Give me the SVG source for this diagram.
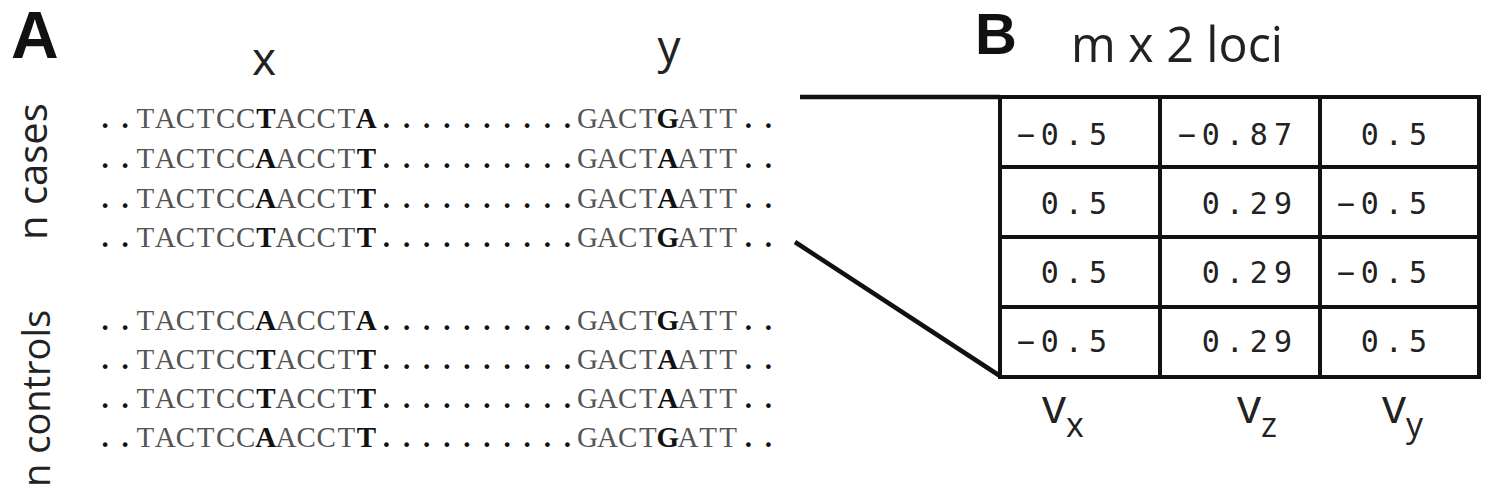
<svg xmlns="http://www.w3.org/2000/svg" width="1485" height="497" viewBox="0 0 1485 497">
<style>
.panel{font-family:"Liberation Sans",Arial,sans-serif;font-weight:bold;fill:#111}
.lab{font-family:"Open Sans","Liberation Sans",sans-serif;fill:#222}
.seq{font-family:"Liberation Serif","Times New Roman",serif;font-size:29px;fill:#555;text-anchor:middle}
.dot{fill:#111;font-weight:bold}
.b{font-weight:bold;fill:#111}
.num{font-family:"DejaVu Sans Mono",monospace;font-size:30px;letter-spacing:6px;fill:#222;text-anchor:end}
.grid{fill:none;stroke:#111;stroke-width:4}
.conn{stroke:#111;stroke-width:4.5;fill:none}
</style>
<rect width="1485" height="497" fill="#fff"/>
<g id="panelA">
<text class="panel" x="11" y="58" font-size="66">A</text>
<text class="lab" x="264" y="75" font-size="46" text-anchor="middle">x</text>
<text class="lab" x="669" y="63" font-size="46" text-anchor="middle">y</text>
<text class="lab" font-size="40" transform="translate(47,240) rotate(-90)">n cases</text>
<text class="lab" font-size="38" transform="translate(50,487) rotate(-90)">n controls</text>
</g>
<g id="cases">
<text class="seq" y="128" x="105.05 125.15 145.25 165.35 185.45 205.55 225.65 245.75 265.85 285.95 306.05 326.15 346.25 366.35 386.45 406.55 426.65 446.75 466.85 486.95 507.05 527.15 547.25 567.35 587.45 607.55 627.65 647.75 667.85 687.95 708.05 728.15 748.25 768.35"><tspan class="dot">..</tspan>TACTCC<tspan class="b">T</tspan>ACCT<tspan class="b">A</tspan><tspan class="dot">..........</tspan>GACT<tspan class="b">G</tspan>ATT<tspan class="dot">..</tspan></text>
<text class="seq" y="168" x="105.05 125.15 145.25 165.35 185.45 205.55 225.65 245.75 265.85 285.95 306.05 326.15 346.25 366.35 386.45 406.55 426.65 446.75 466.85 486.95 507.05 527.15 547.25 567.35 587.45 607.55 627.65 647.75 667.85 687.95 708.05 728.15 748.25 768.35"><tspan class="dot">..</tspan>TACTCC<tspan class="b">A</tspan>ACCT<tspan class="b">T</tspan><tspan class="dot">..........</tspan>GACT<tspan class="b">A</tspan>ATT<tspan class="dot">..</tspan></text>
<text class="seq" y="208" x="105.05 125.15 145.25 165.35 185.45 205.55 225.65 245.75 265.85 285.95 306.05 326.15 346.25 366.35 386.45 406.55 426.65 446.75 466.85 486.95 507.05 527.15 547.25 567.35 587.45 607.55 627.65 647.75 667.85 687.95 708.05 728.15 748.25 768.35"><tspan class="dot">..</tspan>TACTCC<tspan class="b">A</tspan>ACCT<tspan class="b">T</tspan><tspan class="dot">..........</tspan>GACT<tspan class="b">A</tspan>ATT<tspan class="dot">..</tspan></text>
<text class="seq" y="247" x="105.05 125.15 145.25 165.35 185.45 205.55 225.65 245.75 265.85 285.95 306.05 326.15 346.25 366.35 386.45 406.55 426.65 446.75 466.85 486.95 507.05 527.15 547.25 567.35 587.45 607.55 627.65 647.75 667.85 687.95 708.05 728.15 748.25 768.35"><tspan class="dot">..</tspan>TACTCC<tspan class="b">T</tspan>ACCT<tspan class="b">T</tspan><tspan class="dot">..........</tspan>GACT<tspan class="b">G</tspan>ATT<tspan class="dot">..</tspan></text>
</g>
<g id="controls">
<text class="seq" y="330" x="105.05 125.15 145.25 165.35 185.45 205.55 225.65 245.75 265.85 285.95 306.05 326.15 346.25 366.35 386.45 406.55 426.65 446.75 466.85 486.95 507.05 527.15 547.25 567.35 587.45 607.55 627.65 647.75 667.85 687.95 708.05 728.15 748.25 768.35"><tspan class="dot">..</tspan>TACTCC<tspan class="b">A</tspan>ACCT<tspan class="b">A</tspan><tspan class="dot">..........</tspan>GACT<tspan class="b">G</tspan>ATT<tspan class="dot">..</tspan></text>
<text class="seq" y="369" x="105.05 125.15 145.25 165.35 185.45 205.55 225.65 245.75 265.85 285.95 306.05 326.15 346.25 366.35 386.45 406.55 426.65 446.75 466.85 486.95 507.05 527.15 547.25 567.35 587.45 607.55 627.65 647.75 667.85 687.95 708.05 728.15 748.25 768.35"><tspan class="dot">..</tspan>TACTCC<tspan class="b">T</tspan>ACCT<tspan class="b">T</tspan><tspan class="dot">..........</tspan>GACT<tspan class="b">A</tspan>ATT<tspan class="dot">..</tspan></text>
<text class="seq" y="408" x="105.05 125.15 145.25 165.35 185.45 205.55 225.65 245.75 265.85 285.95 306.05 326.15 346.25 366.35 386.45 406.55 426.65 446.75 466.85 486.95 507.05 527.15 547.25 567.35 587.45 607.55 627.65 647.75 667.85 687.95 708.05 728.15 748.25 768.35"><tspan class="dot">..</tspan>TACTCC<tspan class="b">T</tspan>ACCT<tspan class="b">T</tspan><tspan class="dot">..........</tspan>GACT<tspan class="b">A</tspan>ATT<tspan class="dot">..</tspan></text>
<text class="seq" y="447" x="105.05 125.15 145.25 165.35 185.45 205.55 225.65 245.75 265.85 285.95 306.05 326.15 346.25 366.35 386.45 406.55 426.65 446.75 466.85 486.95 507.05 527.15 547.25 567.35 587.45 607.55 627.65 647.75 667.85 687.95 708.05 728.15 748.25 768.35"><tspan class="dot">..</tspan>TACTCC<tspan class="b">A</tspan>ACCT<tspan class="b">T</tspan><tspan class="dot">..........</tspan>GACT<tspan class="b">G</tspan>ATT<tspan class="dot">..</tspan></text>
</g>
<g id="connectors">
<line class="conn" x1="800" y1="97" x2="1000" y2="97"/>
<line class="conn" x1="795" y1="242" x2="1000" y2="376"/>
</g>
<g id="panelB">
<text class="panel" x="975" y="54" font-size="58">B</text>
<text class="lab" x="1071" y="62" font-size="50" textLength="212" lengthAdjust="spacingAndGlyphs">m x 2 loci</text>
</g>
<g id="matrix">
<rect class="grid" x="1000" y="97" width="479" height="280"/>
<path class="grid" d="M1160 97V377M1320 97V377M1000 167H1479M1000 237H1479M1000 307H1479"/>
<text class="num" x="1113" y="145">−0.5</text>
<text class="num" x="1298" y="145">−0.87</text>
<text class="num" x="1433" y="145">0.5</text>
<text class="num" x="1113" y="214">0.5</text>
<text class="num" x="1298" y="214">0.29</text>
<text class="num" x="1433" y="214">−0.5</text>
<text class="num" x="1113" y="283">0.5</text>
<text class="num" x="1298" y="283">0.29</text>
<text class="num" x="1433" y="283">−0.5</text>
<text class="num" x="1113" y="352">−0.5</text>
<text class="num" x="1298" y="352">0.29</text>
<text class="num" x="1433" y="352">0.5</text>
</g>
<g id="vectors">
<text class="lab" x="1042" y="423" font-size="48">v<tspan font-size="34" dy="14">x</tspan></text>
<text class="lab" x="1237" y="423" font-size="48">v<tspan font-size="34" dy="14">z</tspan></text>
<text class="lab" x="1382" y="423" font-size="48">v<tspan font-size="34" dy="14">y</tspan></text>
</g>
</svg>
